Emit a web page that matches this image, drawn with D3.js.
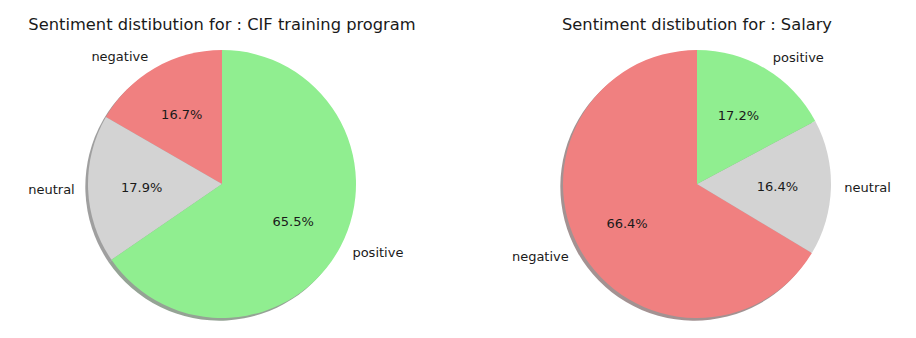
<!DOCTYPE html>
<html><head><meta charset="utf-8">
<script src="https://cdn.jsdelivr.net/npm/d3@7"></script>
<style>body{margin:0;background:#fff}svg{display:block}text{font-family:"DejaVu Sans",sans-serif;fill:#1a1a1a}</style>
</head><body>
<svg id="c" width="916" height="338"></svg>
<script>
const categories = ["negative", "neutral", "positive"];
const colors = ["#F08080", "#D3D3D3", "#90EE90"];
const cifValues = [16.7, 17.9, 65.5];
const salaryValues = [66.4, 16.4, 17.2];
const titles = ["Sentiment distibution for : CIF training program", "Sentiment distibution for : Salary"];

const svg = d3.select("#c");
const R = 134;
const panels = [
  {cx: 222, cy: 184, values: cifValues, title: titles[0]},
  {cx: 697, cy: 184, values: salaryValues, title: titles[1]}
];

const pie = d3.pie().sort(null).startAngle(0).endAngle(-2 * Math.PI);
const arc = d3.arc().innerRadius(0).outerRadius(R);

function shadowColor(c) {
  const r = d3.rgb(c);
  return d3.rgb(r.r * 0.3, r.g * 0.3, r.b * 0.3).toString();
}

panels.forEach(p => {
  const data = categories.map((k, i) => ({k, v: p.values[i], c: colors[i]}));
  const arcs = pie.value(d => d.v)(data);
  const g = svg.append("g").attr("transform", `translate(${p.cx},${p.cy})`);
  // shadow
  g.append("g").attr("transform", `translate(${-0.02 * R},${0.02 * R})`)
    .selectAll("path").data(arcs).join("path")
    .attr("d", arc).attr("fill", d => shadowColor(d.data.c)).attr("opacity", 0.5);
  g.append("g").selectAll("path").data(arcs).join("path")
    .attr("d", arc).attr("fill", d => d.data.c);
  arcs.forEach(a => {
    const mid = (a.startAngle + a.endAngle) / 2;
    const sx = Math.sin(mid), sy = -Math.cos(mid);
    g.append("text")
      .attr("x", 1.1 * R * sx).attr("y", 1.1 * R * sy)
      .attr("text-anchor", sx > 0 ? "start" : "end")
      .attr("dominant-baseline", "central")
      .attr("font-size", 13).text(a.data.k);
    g.append("text")
      .attr("x", 0.6 * R * sx).attr("y", 0.6 * R * sy)
      .attr("text-anchor", "middle")
      .attr("dominant-baseline", "central")
      .attr("font-size", 13).text(a.data.v.toFixed(1) + "%");
  });
  svg.append("text").attr("x", p.cx).attr("y", 24)
    .attr("text-anchor", "middle").attr("dominant-baseline", "central")
    .attr("font-size", 16.3).text(p.title);
});
</script>
</body></html>
